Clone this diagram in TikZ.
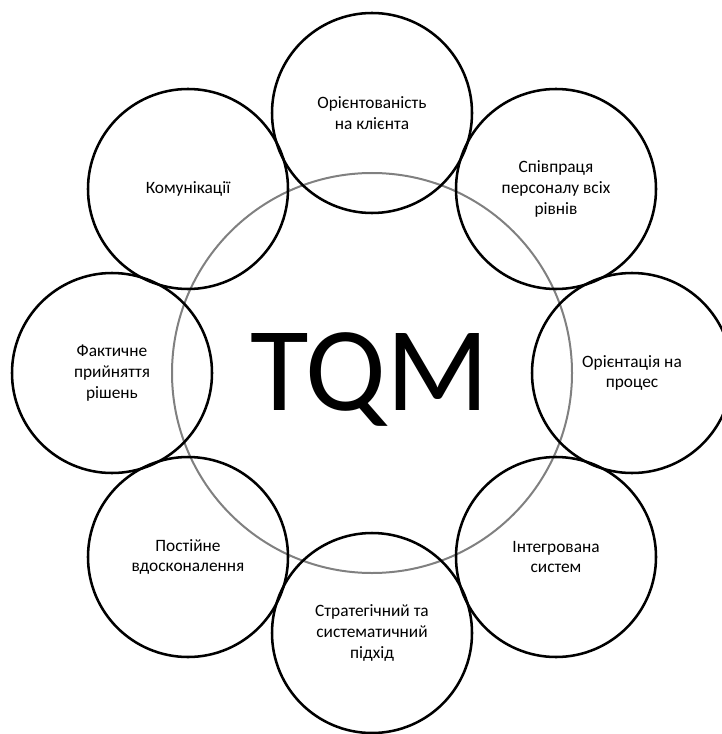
\documentclass[tikz,border=0pt]{standalone}
\usepackage{fontspec}
\setmainfont{Carlito}
\begin{document}
\begin{tikzpicture}[x=0.75pt,y=-0.75pt,
  ring/.style={circle,draw=black!50,line width=1.5pt,minimum size=300pt,inner sep=0pt},
  item/.style={circle,draw=black,line width=1.9pt,minimum size=150pt,inner sep=0pt,
    align=center,font=\fontsize{13}{15.5}\selectfont},
  core/.style={font=\fontsize{90}{90}\selectfont,inner sep=0pt,anchor=base}]
\useasboundingbox (0,0) rectangle (721,734);
\node[ring] (big) at (372,373) {};
\node[core] (tqm) at (370,410) {TQM};
\node[item] (c1) at (372,113) {Орієнтованість\\на клієнта};
\node[item] (c2) at (556,189) {Співпраця\\персоналу всіх\\рівнів};
\node[item] (c3) at (632,373) {Орієнтація на\\процес};
\node[item] (c4) at (556,557) {Інтегрована\\систем};
\node[item] (c5) at (372,633) {Стратегічний та\\систематичний\\підхід};
\node[item] (c6) at (188,557) {Постійне\\вдосконалення};
\node[item] (c7) at (112,373) {Фактичне\\прийняття\\рішень};
\node[item] (c8) at (188,189) {Комунікації};
\end{tikzpicture}
\end{document}
